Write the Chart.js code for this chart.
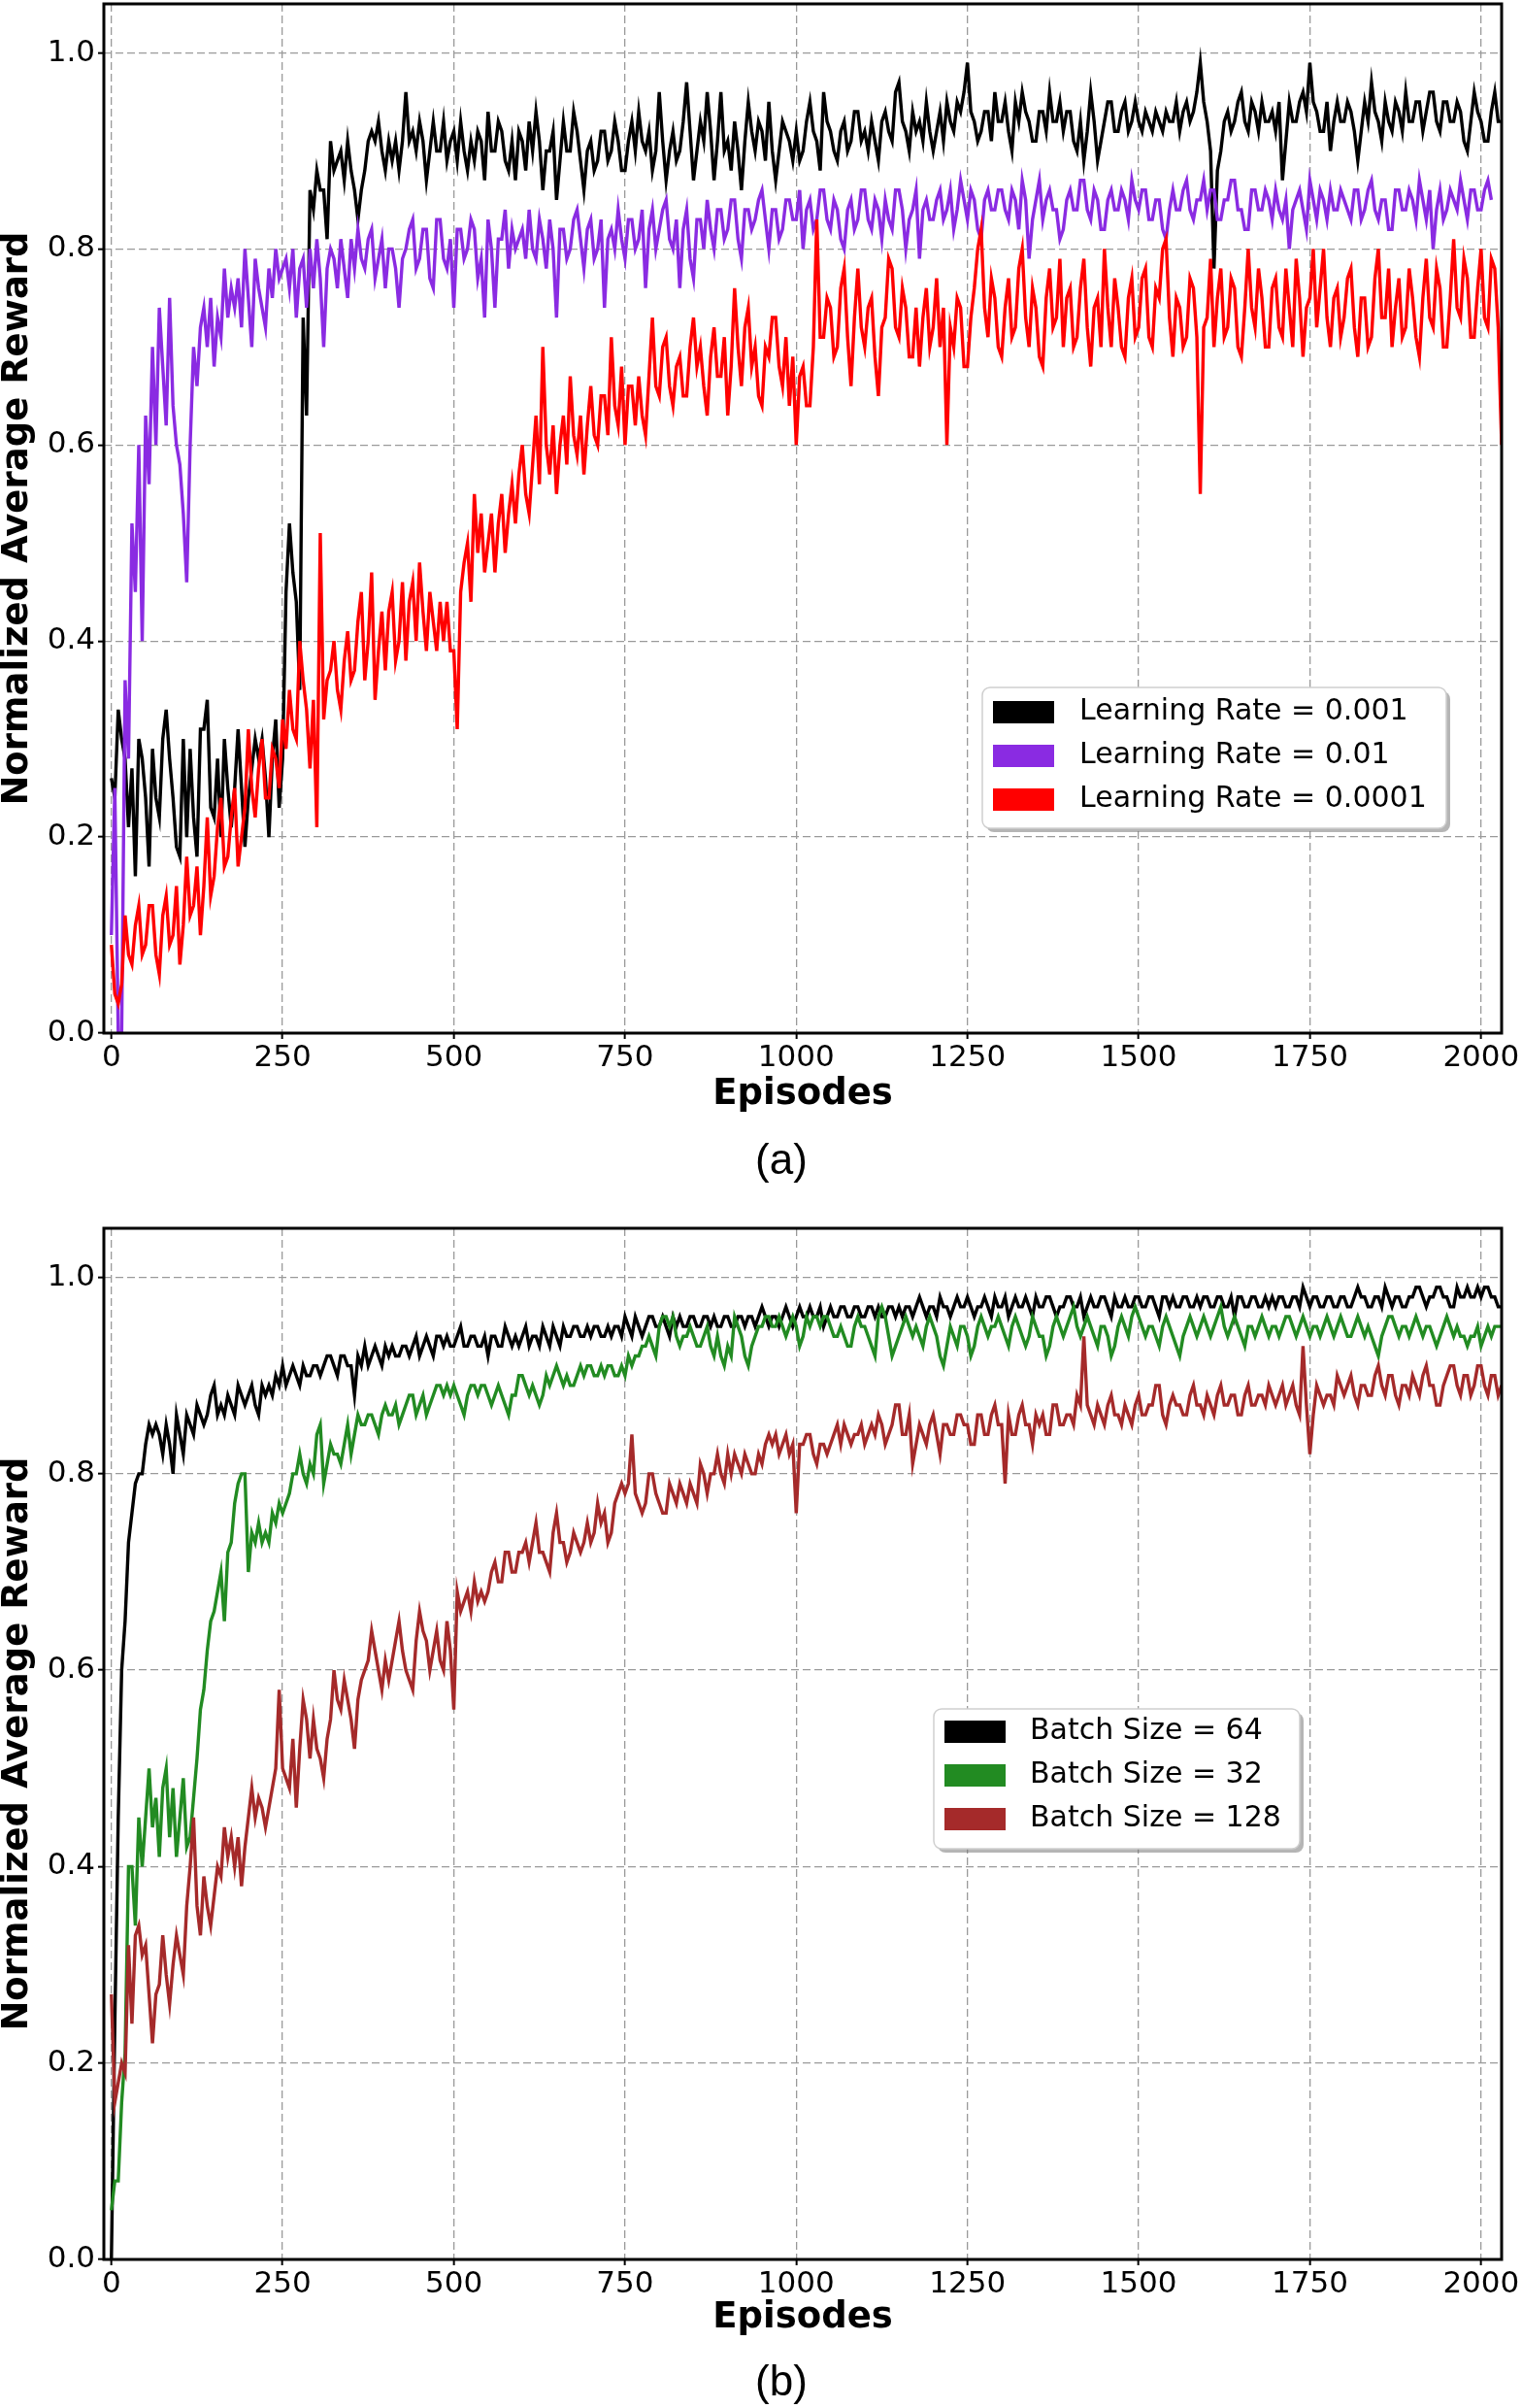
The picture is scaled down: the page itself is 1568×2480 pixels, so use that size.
<!DOCTYPE html>
<html>
<head>
<meta charset="utf-8">
<script src="https://cdn.jsdelivr.net/npm/chart.js@4.4.1/dist/chart.umd.min.js"></script>
<style>
  html, body { margin: 0; padding: 0; background: #fff; }
  #page { position: relative; width: 1568px; height: 2480px; background: #fff; overflow: hidden; }
  canvas { position: absolute; left: 0; }
  .cap { position: absolute; font-family: 'Liberation Sans', Arial, sans-serif; font-size: 44px; color: #000;
         transform: translate(-50%, -50%); line-height: 1; }
</style>
</head>
<body>
<div id="page">
  <canvas id="chartA" width="1568" height="1200" style="top:0px"></canvas>
  <canvas id="chartB" width="1568" height="1200" style="top:1261px"></canvas>
  <div class="cap" style="left:805px; top:1194px">(a)</div>
  <div class="cap" style="left:805px; top:2452px">(b)</div>
</div>
<script>
// episodes are logged every 5 steps
const STEP = 5;
const episodes = Array.from({ length: 407 }, (_, i) => i * STEP);

const xTicks = [0, 250, 500, 750, 1000, 1250, 1500, 1750, 2000];
const yTicks = [0, 0.2, 0.4, 0.6, 0.8, 1.0];

// (a) learning rate, one row = 100 episodes
const lr001 = [
  .26, .24, .33, .30, .28, .21, .27, .16, .30, .28, .24, .17, .29, .24, .22, .30, .33, .28, .24, .19,
  .18, .30, .20, .29, .22, .18, .31, .31, .34, .23, .22, .28, .20, .30, .25, .21, .25, .31, .25, .19,
  .24, .27, .30, .28, .30, .26, .20, .28, .32, .23, .28, .45, .52, .47, .44, .35, .73, .63, .86, .84,
  .88, .86, .86, .81, .91, .88, .89, .90, .87, .91, .88, .86, .83, .86, .88, .91, .92, .91, .93, .90,
  .88, .91, .89, .91, .88, .91, .96, .91, .92, .90, .93, .91, .87, .90, .93, .90, .90, .93, .89, .91,
  .92, .89, .93, .90, .88, .91, .89, .92, .91, .87, .94, .90, .90, .93, .92, .89, .88, .91, .87, .92,
  .91, .88, .93, .90, .94, .91, .86, .90, .90, .92, .85, .89, .93, .90, .90, .94, .92, .89, .86, .90,
  .91, .88, .89, .92, .92, .89, .90, .93, .91, .88, .88, .91, .93, .90, .94, .91, .90, .92, .88, .90,
  .96, .91, .87, .90, .92, .89, .90, .93, .97, .92, .87, .90, .93, .91, .96, .92, .87, .91, .96, .90,
  .91, .88, .93, .90, .86, .91, .95, .92, .90, .93, .92, .89, .95, .90, .87, .90, .93, .92, .91, .89,
  .92, .89, .90, .93, .95, .92, .91, .88, .96, .93, .92, .90, .89, .92, .93, .90, .91, .94, .94, .91,
  .92, .90, .93, .91, .89, .93, .94, .92, .91, .96, .97, .93, .92, .90, .94, .92, .93, .91, .95, .92,
  .90, .92, .94, .91, .95, .93, .92, .95, .94, .96, .99, .94, .93, .91, .92, .94, .94, .91, .96, .93,
  .93, .95, .92, .90, .95, .93, .96, .94, .93, .91, .91, .94, .94, .92, .96, .93, .93, .95, .92, .94,
  .94, .91, .90, .93, .89, .92, .96, .93, .89, .91, .93, .95, .95, .92, .92, .94, .95, .92, .93, .95,
  .93, .92, .94, .93, .92, .94, .93, .92, .94, .93, .93, .95, .92, .94, .95, .93, .94, .96, .99, .95,
  .93, .90, .78, .88, .90, .93, .94, .92, .93, .95, .96, .93, .92, .95, .94, .92, .95, .93, .93, .94,
  .92, .95, .87, .91, .95, .93, .93, .95, .96, .94, .99, .95, .94, .92, .92, .95, .90, .93, .95, .93,
  .93, .95, .94, .92, .89, .92, .95, .93, .97, .94, .93, .91, .95, .93, .92, .95, .94, .92, .96, .93,
  .93, .95, .95, .92, .94, .96, .96, .93, .92, .95, .95, .93, .93, .95, .94, .91, .90, .93, .96, .94,
  .93, .91, .91, .94, .96, .93, .93
];
const lr01 = [
  .10, .25, .00, .00, .36, .28, .52, .45, .60, .40, .63, .56, .70, .60, .74, .68, .62, .75, .64, .60,
  .58, .53, .46, .60, .70, .66, .72, .74, .70, .75, .68, .73, .71, .78, .73, .76, .74, .77, .72, .80,
  .75, .70, .79, .76, .74, .72, .78, .75, .80, .77, .78, .79, .76, .80, .73, .78, .79, .74, .80, .76,
  .81, .77, .70, .78, .80, .79, .76, .81, .78, .75, .81, .78, .82, .79, .78, .81, .82, .77, .79, .81,
  .76, .80, .80, .78, .74, .79, .80, .82, .83, .78, .79, .82, .82, .77, .76, .83, .83, .79, .78, .81,
  .74, .82, .82, .79, .80, .83, .82, .77, .79, .73, .83, .80, .74, .81, .81, .84, .78, .82, .80, .81,
  .82, .79, .84, .80, .79, .83, .81, .78, .83, .80, .73, .82, .82, .79, .80, .83, .84, .81, .78, .82,
  .83, .79, .80, .83, .74, .81, .82, .80, .84, .81, .79, .83, .83, .80, .81, .84, .76, .82, .84, .80,
  .82, .84, .85, .81, .80, .83, .76, .82, .84, .79, .77, .83, .83, .80, .85, .82, .80, .84, .84, .81,
  .82, .85, .85, .81, .79, .84, .84, .82, .83, .85, .86, .83, .80, .84, .84, .81, .82, .85, .85, .83,
  .83, .86, .80, .84, .85, .82, .83, .86, .86, .83, .82, .85, .84, .81, .80, .84, .85, .82, .83, .86,
  .86, .83, .82, .85, .84, .81, .85, .83, .82, .86, .86, .84, .80, .83, .84, .86, .79, .84, .85, .83,
  .83, .85, .86, .83, .84, .86, .82, .84, .87, .85, .83, .86, .85, .82, .81, .85, .86, .84, .84, .86,
  .86, .84, .83, .86, .85, .82, .87, .85, .79, .83, .85, .87, .83, .85, .86, .84, .84, .81, .82, .85,
  .86, .84, .84, .87, .87, .84, .83, .86, .85, .82, .82, .85, .86, .84, .84, .86, .85, .83, .87, .85,
  .84, .86, .86, .83, .83, .85, .85, .82, .81, .84, .86, .84, .84, .86, .87, .84, .83, .85, .85, .87,
  .84, .86, .86, .83, .83, .85, .85, .87, .87, .84, .84, .82, .82, .86, .86, .84, .84, .86, .85, .83,
  .86, .84, .83, .85, .80, .84, .85, .86, .84, .82, .87, .85, .83, .86, .85, .83, .86, .84, .84, .86,
  .85, .84, .83, .86, .86, .83, .84, .86, .87, .84, .83, .85, .85, .82, .82, .86, .86, .84, .84, .86,
  .85, .83, .87, .85, .83, .86, .80, .84, .86, .83, .84, .86, .85, .84, .87, .85, .83, .86, .86, .84,
  .84, .86, .87, .85, null, null, null
];
const lr0001 = [
  .09, .04, .03, .05, .12, .08, .07, .11, .13, .08, .09, .13, .13, .08, .06, .12, .14, .09, .10, .15,
  .07, .11, .18, .12, .13, .17, .10, .15, .22, .14, .16, .21, .24, .17, .18, .22, .25, .17, .20, .23,
  .31, .25, .22, .27, .30, .24, .24, .29, .28, .25, .32, .29, .35, .31, .30, .40, .36, .33, .27, .34,
  .21, .51, .32, .36, .37, .40, .35, .33, .38, .41, .36, .37, .42, .45, .36, .40, .47, .34, .39, .43,
  .37, .43, .45, .38, .40, .46, .38, .44, .46, .40, .48, .43, .39, .45, .42, .39, .44, .40, .44, .39,
  .39, .31, .45, .48, .50, .44, .55, .49, .53, .47, .50, .53, .47, .52, .55, .49, .53, .56, .52, .57,
  .60, .55, .53, .58, .63, .56, .70, .60, .57, .62, .55, .60, .63, .58, .67, .61, .59, .63, .57, .62,
  .66, .61, .60, .65, .65, .61, .71, .64, .62, .68, .60, .66, .66, .62, .67, .63, .61, .67, .73, .66,
  .65, .70, .71, .66, .64, .68, .69, .65, .65, .70, .73, .68, .70, .66, .63, .69, .72, .67, .67, .71,
  .63, .68, .76, .70, .66, .72, .74, .68, .70, .65, .64, .70, .69, .73, .73, .68, .66, .71, .64, .69,
  .60, .67, .68, .64, .64, .70, .83, .71, .71, .75, .74, .69, .70, .76, .78, .71, .66, .73, .78, .72,
  .70, .74, .75, .69, .65, .72, .73, .79, .78, .72, .71, .76, .74, .69, .69, .74, .68, .73, .76, .70,
  .72, .77, .70, .74, .60, .72, .70, .75, .74, .68, .68, .73, .76, .80, .82, .74, .71, .77, .75, .70,
  .69, .74, .77, .71, .72, .78, .80, .73, .70, .76, .74, .69, .68, .75, .78, .72, .73, .79, .70, .75,
  .76, .70, .71, .76, .79, .72, .68, .74, .75, .70, .80, .74, .70, .77, .74, .70, .69, .75, .77, .71,
  .72, .77, .78, .71, .70, .76, .75, .80, .81, .73, .69, .75, .74, .70, .71, .77, .76, .71, .55, .72,
  .73, .79, .70, .75, .78, .71, .72, .77, .76, .70, .69, .74, .80, .74, .72, .78, .75, .70, .70, .76,
  .77, .72, .71, .78, .74, .70, .79, .75, .69, .74, .75, .80, .72, .76, .80, .73, .70, .75, .76, .71,
  .73, .77, .78, .72, .69, .75, .75, .70, .71, .77, .80, .73, .73, .78, .70, .74, .77, .71, .72, .78,
  .75, .71, .69, .75, .79, .73, .72, .78, .76, .70, .70, .75, .81, .74, .73, .79, .77, .71, .71, .76,
  .80, .73, .72, .79, .78, .72, .60
];

// (b) batch size
const bs64 = [
  .00, .24, .45, .60, .65, .73, .76, .79, .80, .80, .83, .85, .84, .85, .84, .82, .85, .83, .80, .86,
  .84, .82, .86, .85, .84, .87, .86, .85, .86, .88, .89, .86, .87, .86, .88, .87, .86, .89, .88, .87,
  .88, .89, .87, .86, .89, .88, .89, .88, .90, .89, .91, .89, .90, .91, .90, .89, .91, .90, .90, .91,
  .91, .90, .91, .92, .92, .91, .90, .92, .92, .91, .91, .88, .92, .91, .93, .91, .92, .93, .92, .91,
  .93, .92, .93, .92, .92, .93, .93, .92, .93, .94, .92, .93, .94, .93, .92, .94, .94, .93, .94, .93,
  .93, .94, .95, .93, .93, .94, .94, .93, .93, .94, .92, .94, .94, .93, .93, .95, .94, .93, .94, .93,
  .94, .95, .93, .94, .94, .93, .95, .94, .93, .95, .94, .93, .95, .94, .94, .95, .95, .94, .94, .95,
  .94, .95, .95, .94, .94, .95, .94, .95, .95, .94, .96, .95, .94, .96, .95, .94, .95, .96, .96, .95,
  .95, .96, .95, .94, .96, .95, .96, .95, .95, .96, .96, .95, .95, .96, .96, .95, .96, .95, .95, .96,
  .96, .95, .95, .96, .96, .95, .96, .96, .95, .96, .97, .96, .95, .96, .96, .95, .96, .97, .96, .95,
  .96, .97, .96, .96, .97, .96, .96, .97, .95, .96, .97, .96, .96, .97, .97, .96, .96, .97, .97, .96,
  .96, .97, .97, .96, .97, .96, .96, .97, .97, .96, .97, .96, .97, .97, .96, .97, .98, .97, .96, .97,
  .97, .96, .98, .97, .97, .96, .97, .98, .97, .97, .98, .97, .96, .97, .97, .98, .97, .96, .98, .97,
  .97, .98, .96, .97, .98, .97, .97, .98, .97, .96, .98, .97, .97, .98, .98, .97, .96, .97, .97, .98,
  .98, .97, .97, .98, .96, .97, .98, .97, .97, .98, .98, .97, .96, .98, .97, .97, .98, .97, .97, .98,
  .98, .97, .97, .98, .98, .97, .96, .98, .98, .97, .98, .97, .97, .98, .98, .97, .97, .98, .97, .98,
  .98, .97, .97, .98, .98, .97, .97, .98, .96, .98, .98, .97, .97, .98, .98, .97, .97, .98, .97, .98,
  .97, .98, .98, .97, .97, .98, .98, .97, .99, .98, .97, .98, .98, .97, .97, .98, .98, .97, .97, .98,
  .98, .97, .97, .98, .99, .98, .98, .97, .97, .98, .98, .97, .99, .98, .97, .98, .98, .97, .97, .98,
  .98, .99, .99, .98, .97, .98, .98, .99, .99, .98, .98, .97, .97, .99, .98, .98, .99, .98, .98, .99,
  .98, .99, .99, .98, .98, .97, .97
];
const bs32 = [
  .05, .08, .08, .16, .21, .40, .40, .34, .45, .40, .45, .50, .44, .47, .41, .48, .50, .43, .48, .41,
  .45, .49, .42, .43, .47, .51, .56, .58, .62, .65, .66, .68, .70, .65, .72, .73, .77, .79, .80, .80,
  .70, .74, .73, .75, .73, .74, .73, .76, .75, .77, .76, .77, .78, .80, .80, .82, .80, .79, .81, .80,
  .84, .85, .79, .81, .83, .82, .82, .81, .83, .85, .82, .84, .86, .85, .85, .86, .86, .85, .84, .86,
  .87, .86, .86, .87, .85, .86, .87, .88, .88, .86, .87, .88, .86, .87, .88, .89, .89, .88, .89, .88,
  .89, .88, .87, .86, .88, .89, .89, .88, .89, .89, .88, .87, .88, .89, .88, .87, .86, .88, .88, .90,
  .90, .89, .88, .89, .88, .87, .88, .90, .89, .90, .91, .90, .89, .90, .89, .89, .90, .91, .90, .91,
  .91, .90, .90, .91, .90, .91, .91, .90, .90, .91, .90, .92, .91, .92, .92, .93, .93, .94, .93, .92,
  .95, .96, .96, .95, .96, .94, .93, .94, .94, .95, .94, .93, .93, .94, .95, .93, .92, .94, .92, .91,
  .93, .92, .96, .95, .94, .92, .91, .93, .94, .95, .95, .96, .96, .95, .95, .96, .95, .94, .95, .96,
  .95, .93, .94, .96, .95, .96, .96, .95, .96, .96, .95, .94, .94, .95, .94, .93, .93, .95, .96, .95,
  .95, .94, .93, .92, .96, .97, .96, .94, .92, .93, .94, .95, .96, .95, .94, .95, .94, .93, .95, .96,
  .95, .94, .92, .91, .93, .95, .94, .93, .95, .95, .94, .92, .93, .95, .96, .95, .94, .95, .95, .96,
  .95, .94, .93, .95, .96, .95, .94, .93, .94, .96, .95, .94, .94, .92, .93, .95, .96, .95, .94, .95,
  .96, .97, .95, .94, .95, .96, .95, .94, .93, .95, .95, .94, .92, .93, .95, .96, .95, .94, .96, .97,
  .96, .95, .94, .95, .95, .94, .93, .95, .96, .95, .94, .93, .92, .94, .95, .96, .95, .94, .95, .96,
  .95, .94, .95, .96, .97, .95, .94, .95, .96, .95, .94, .93, .95, .95, .94, .95, .96, .95, .94, .95,
  .95, .94, .95, .96, .96, .95, .94, .95, .96, .95, .94, .95, .95, .94, .95, .96, .95, .94, .95, .96,
  .95, .94, .94, .95, .96, .95, .94, .95, .94, .93, .92, .94, .95, .96, .96, .95, .94, .95, .95, .94,
  .95, .96, .95, .94, .95, .95, .94, .93, .94, .95, .96, .95, .94, .95, .94, .94, .93, .94, .94, .95,
  .93, .94, .95, .94, .95, .95, .95
];
const bs128 = [
  .27, .16, .18, .20, .19, .32, .24, .33, .34, .31, .32, .27, .22, .27, .28, .33, .29, .26, .30, .33,
  .31, .29, .36, .40, .45, .36, .33, .39, .36, .34, .37, .40, .39, .44, .41, .43, .40, .43, .38, .42,
  .45, .48, .45, .47, .46, .44, .46, .48, .50, .58, .50, .49, .48, .53, .46, .52, .57, .55, .51, .55,
  .52, .51, .49, .53, .55, .60, .57, .56, .59, .57, .55, .52, .57, .59, .60, .61, .64, .62, .60, .58,
  .61, .59, .61, .63, .65, .62, .60, .59, .58, .63, .66, .64, .63, .60, .62, .64, .61, .60, .65, .62,
  .56, .68, .66, .67, .68, .66, .69, .67, .68, .67, .68, .70, .71, .69, .69, .72, .72, .70, .70, .72,
  .72, .73, .71, .73, .75, .72, .72, .71, .70, .74, .76, .73, .73, .71, .72, .74, .73, .72, .73, .75,
  .73, .74, .77, .75, .76, .73, .74, .77, .78, .79, .78, .79, .84, .78, .77, .76, .77, .80, .80, .78,
  .77, .76, .76, .79, .78, .77, .79, .78, .77, .79, .78, .77, .81, .80, .78, .80, .80, .82, .80, .79,
  .82, .80, .82, .81, .80, .82, .81, .80, .80, .82, .81, .83, .84, .83, .84, .82, .83, .84, .82, .83,
  .76, .83, .83, .84, .84, .82, .81, .83, .83, .82, .83, .84, .85, .83, .85, .84, .83, .84, .84, .85,
  .83, .84, .85, .84, .86, .85, .83, .84, .85, .87, .87, .84, .84, .86, .81, .83, .85, .84, .83, .85,
  .86, .84, .82, .85, .85, .84, .84, .86, .86, .85, .85, .83, .83, .86, .86, .84, .84, .86, .87, .85,
  .85, .79, .86, .84, .84, .86, .87, .85, .85, .83, .86, .85, .86, .84, .84, .87, .87, .85, .85, .86,
  .86, .85, .88, .87, .94, .87, .86, .85, .87, .86, .85, .87, .88, .86, .86, .85, .87, .86, .85, .87,
  .88, .86, .86, .87, .87, .89, .89, .86, .85, .87, .88, .87, .87, .86, .86, .88, .89, .87, .87, .86,
  .88, .87, .86, .88, .89, .87, .87, .88, .88, .86, .86, .88, .89, .87, .87, .88, .88, .87, .89, .88,
  .87, .88, .89, .87, .88, .89, .87, .86, .93, .87, .82, .86, .89, .88, .87, .88, .88, .87, .90, .89,
  .88, .89, .90, .88, .87, .89, .89, .88, .88, .90, .91, .89, .88, .90, .90, .88, .87, .89, .89, .88,
  .90, .89, .88, .90, .91, .89, .89, .87, .87, .89, .90, .91, .91, .89, .88, .90, .90, .88, .89, .91,
  .91, .89, .88, .90, .90, .88, .89
];

Chart.defaults.font.family = "'DejaVu Sans', sans-serif";
Chart.defaults.color = '#000';

function toPoints(values) {
  return values.map((v, i) => ({ x: episodes[i], y: v }));
}

// top/right spines, matplotlib style
const frame = {
  id: 'frame',
  afterDatasetsDraw(chart) {
    const { ctx, chartArea: a } = chart;
    ctx.save();
    ctx.strokeStyle = '#000';
    ctx.lineWidth = 3;
    ctx.strokeRect(a.left, a.top, a.right - a.left, a.bottom - a.top);
    ctx.restore();
  }
};

// legend box with shadow drawn inside the plot
const boxLegend = {
  id: 'boxLegend',
  afterDraw(chart, args, o) {
    const ctx = chart.ctx;
    ctx.save();
    ctx.fillStyle = 'rgba(120,120,120,0.55)';
    ctx.beginPath();
    ctx.roundRect(o.x + 4, o.y + 4, o.w, o.h, 8);
    ctx.fill();
    ctx.fillStyle = '#fff';
    ctx.strokeStyle = '#cfcfcf';
    ctx.lineWidth = 1.5;
    ctx.beginPath();
    ctx.roundRect(o.x, o.y, o.w, o.h, 8);
    ctx.fill();
    ctx.stroke();
    ctx.font = "30px 'DejaVu Sans'";
    ctx.textBaseline = 'middle';
    chart.data.datasets.forEach((ds, i) => {
      const cy = o.row0 + i * o.gap;
      ctx.fillStyle = ds.borderColor;
      ctx.fillRect(o.swX, cy - 11, 63, 23);
      ctx.fillStyle = '#000';
      ctx.fillText(ds.label, o.textX, cy);
    });
    ctx.restore();
  }
};

function makeChart(id, series, lay) {
  return new Chart(document.getElementById(id), {
    type: 'line',
    data: {
      datasets: series.map(s => ({
        label: s.label,
        data: toPoints(s.values),
        borderColor: s.color,
        backgroundColor: s.color,
        borderWidth: 3.4,
        pointRadius: 0,
        tension: 0,
        order: s.order
      }))
    },
    options: {
      responsive: false,
      animation: false,
      events: [],
      layout: { padding: { top: lay.top, right: 21, left: 0, bottom: 0 } },
      plugins: { legend: { display: false }, tooltip: { enabled: false }, boxLegend: lay.legend },
      scales: {
        x: {
          type: 'linear', min: -11, max: 2030,
          afterBuildTicks: s => { s.ticks = xTicks.map(v => ({ value: v })); },
          afterFit: s => { s.height = s.chart.height - lay.bottom; s.paddingLeft = 0; s.paddingRight = 0; },
          ticks: { font: { size: 31 }, padding: 1, autoSkip: false, maxRotation: 0,
                   callback: v => String(v) },
          grid: { color: '#9a9a9a', lineWidth: 1.3, tickLength: 6, tickColor: '#000', tickWidth: 2 },
          border: { display: false, dash: [8, 4] },
          title: { display: true, text: 'Episodes', font: { size: 37, weight: 'bold', lineHeight: 1 },
                   padding: { top: 0, bottom: lay.titlePad } }
        },
        y: {
          min: 0, max: 1.05,
          afterBuildTicks: s => { s.ticks = yTicks.map(v => ({ value: v })); },
          afterFit: s => { s.width = 107; s.paddingTop = 0; s.paddingBottom = 0; },
          ticks: { font: { size: 31 }, padding: 3, callback: v => v.toFixed(1) },
          grid: { color: '#9a9a9a', lineWidth: 1.3, tickLength: 6, tickColor: '#000', tickWidth: 2 },
          border: { display: false, dash: [8, 4] },
          title: { display: true, text: 'Normalized Average Reward',
                   font: { size: 37, weight: 'bold', lineHeight: 1 }, padding: 0 }
        }
      }
    },
    plugins: [frame, boxLegend]
  });
}

makeChart('chartA', [
  { label: 'Learning Rate = 0.001', values: lr001, color: '#000000', order: 3 },
  { label: 'Learning Rate = 0.01', values: lr01, color: '#8a2be2', order: 2 },
  { label: 'Learning Rate = 0.0001', values: lr0001, color: '#ff0000', order: 1 }
], {
  top: 4, bottom: 1064, titlePad: 54,
  legend: { x: 1012, y: 708, w: 478, h: 145, row0: 733, gap: 45, swX: 1023, textX: 1112 }
});

makeChart('chartB', [
  { label: 'Batch Size = 64', values: bs64, color: '#000000', order: 3 },
  { label: 'Batch Size = 32', values: bs32, color: '#228b22', order: 2 },
  { label: 'Batch Size = 128', values: bs128, color: '#a52a2a', order: 1 }
], {
  top: 4, bottom: 1066, titlePad: 55,
  legend: { x: 962, y: 499, w: 377, h: 144, row0: 522, gap: 45, swX: 973, textX: 1061 }
});
</script>
</body>
</html>
